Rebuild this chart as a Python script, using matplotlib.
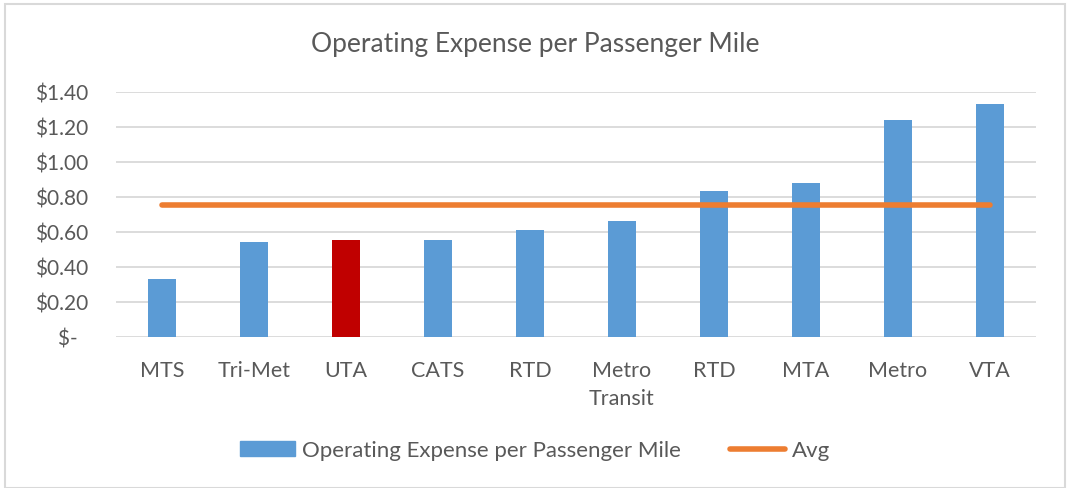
import matplotlib
matplotlib.use("Agg")
from matplotlib import pyplot as plt
from matplotlib.ticker import FuncFormatter
from matplotlib.patches import Rectangle

categories = ['MTS', 'Tri-Met', 'UTA', 'CATS', 'RTD', 'Metro\nTransit', 'RTD', 'MTA', 'Metro', 'VTA']
expense = [0.33, 0.54, 0.55, 0.55, 0.61, 0.66, 0.83, 0.88, 1.24, 1.33]
avg_value = 0.75
highlight = 'UTA'

blue = '#5B9BD5'
red = '#C00000'
orange = '#ED7D31'
text_col = '#595959'
grid_col = '#D9D9D9'

plt.rcParams['font.family'] = ['Lato', 'DejaVu Sans']

fig = plt.figure(figsize=(10.7, 4.89), dpi=100)
ax = fig.add_axes([0.1084, 0.3094, 0.8596, 0.501])

x = list(range(len(categories)))
colors = [red if c == highlight else blue for c in categories]
bars = ax.bar(x, expense, width=0.31, color=colors, zorder=3,
              label='Operating Expense per Passenger Mile')
ax.plot(x, [avg_value] * len(x), color=orange, linewidth=4,
        solid_capstyle='round', zorder=4, label='Avg')

ax.set_xlim(-0.5, len(x) - 0.5)
ax.set_ylim(0, 1.4)
ax.set_yticks([0, 0.2, 0.4, 0.6, 0.8, 1.0, 1.2, 1.4])


def money(v, pos):
    if abs(v) < 1e-9:
        return '$-  '
    return '${:.2f}'.format(v)


ax.yaxis.set_major_formatter(FuncFormatter(money))
ax.set_xticks(x)
ax.set_xticklabels(categories, linespacing=1.45)
ax.tick_params(axis='x', length=0, labelsize=15.5, colors=text_col, pad=17)
ax.tick_params(axis='y', length=0, labelsize=15, colors=text_col, pad=20)
ax.grid(axis='y', color=grid_col, linewidth=1.3, zorder=0)
for s in ax.spines.values():
    s.set_visible(False)

fig.text(0.5, 0.91, 'Operating Expense per Passenger Mile', ha='center', va='center',
         fontsize=19, color=text_col)

leg = fig.legend(handles=[bars[0], ax.lines[0]],
                 labels=['Operating Expense per Passenger Mile', 'Avg'],
                 loc='center', bbox_to_anchor=(0.5, 0.077), ncol=2, frameon=False,
                 fontsize=16, handlelength=2.5, handleheight=0.6,
                 handletextpad=0.3, columnspacing=2.2)
for t in leg.get_texts():
    t.set_color(text_col)
leg.legend_handles[0].set_color(blue)

fig.patches.append(Rectangle((0.005, 0.0), 0.99, 0.99, transform=fig.transFigure,
                             fill=False, edgecolor=grid_col, linewidth=1.5))

plt.savefig('out.png', dpi=100)
